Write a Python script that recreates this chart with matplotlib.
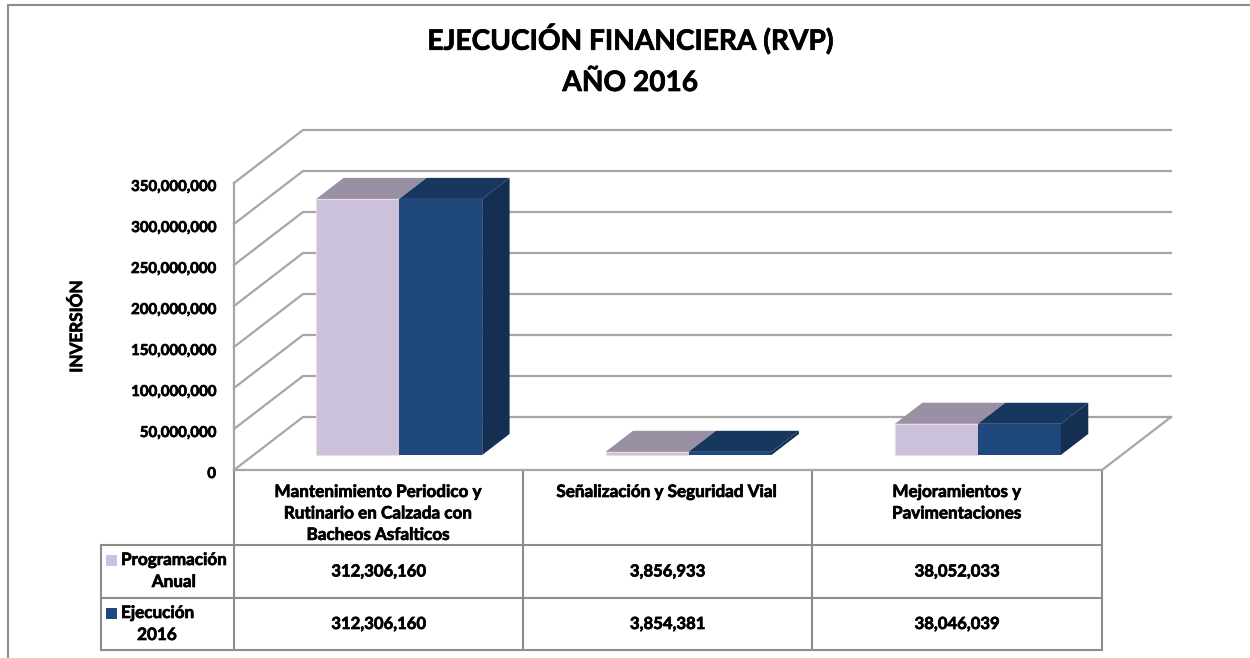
import numpy as np
import matplotlib
matplotlib.use('Agg')
import matplotlib.pyplot as plt
import matplotlib.patheffects as pe
from matplotlib.patches import Polygon, Rectangle
from matplotlib.text import Text
from matplotlib.transforms import ScaledTranslation

plt.rcParams['font.family'] = ['Lato', 'DejaVu Sans']
plt.rcParams['font.weight'] = 'bold'

categories = ['Mantenimiento Periodico y\nRutinario en Calzada con\nBacheos Asfalticos',
              'Señalización y Seguridad Vial',
              'Mejoramientos y\nPavimentaciones']
series_names = ['Programación\nAnual', 'Ejecución\n2016']
programacion = [312306160, 3856933, 38052033]
ejecucion = [312306160, 3854381, 38046039]
y_ticks = [0, 50000000, 100000000, 150000000, 200000000, 250000000, 300000000, 350000000]

W, H = 1250, 658
LINE = '#a6a6a6'
TABLE = '#8c8c8c'
front = ['#ccc1da', '#1f497d']
top = ['#9a90a4', '#17375e']
side = '#152f52'
edges = ['#f2dcdb', 'none']


def px_axes(fig, x0, y0, x1, y1):
    return fig.add_axes([x0 / W, 1 - y1 / H, (x1 - x0) / W, (y1 - y0) / H])


fig = plt.figure(figsize=(12.5, 6.58), dpi=100)

# overlay in pixels for frame and table
bg = fig.add_axes([0, 0, 1, 1], zorder=0)
bg.set_xlim(0, W)
bg.set_ylim(H, 0)
bg.axis('off')
bg.plot([8, 8, W], [H, 5, 5], color='#8c8c8c', lw=1.5)

bg.text(630, 39, 'EJECUCIÓN FINANCIERA (RVP)', ha='center', va='center', fontsize=20.2)
bg.text(630, 83, 'AÑO 2016', ha='center', va='center', fontsize=20.2)

# front plane of the chart, data units are categories and soles
ax = px_axes(fig, 234, 183, 1102, 470)
ax.set_zorder(1)
ax.patch.set_visible(False)
ax.set_xlim(0, 3)
ax.set_ylim(0, 350000000)
for s in ax.spines.values():
    s.set_visible(False)
ax.set_xticks([])
ax.set_yticks(y_ticks)
ax.set_yticklabels([f'{v:,}' for v in y_ticks], fontsize=10.8)
ax.tick_params(axis='y', length=0, pad=13)
for lbl in ax.get_yticklabels():
    lbl.set_transform(lbl.get_transform() + ScaledTranslation(0, -0.025, fig.dpi_scale_trans))
ax.set_ylabel('INVERSIÓN', fontsize=12.3, fontweight='bold', labelpad=33)

# depth of the box, full depth as data offsets
depth_x = 69 / (868 / 3)
depth_y = 53 / 287 * 350000000

for v in y_ticks:
    ax.plot([0, depth_x, 3 + depth_x], [v, v + depth_y, v + depth_y], color=LINE, lw=1.6, clip_on=False, zorder=1)
ax.plot([0, 0], [0, 350000000], color=LINE, lw=1.6, clip_on=False, zorder=1)
ax.plot([0, 3, 3 + depth_x], [0, 0, depth_y], color=LINE, lw=1.6, clip_on=False, zorder=1)

# bars sit inside the box between these depths
d0, d1 = 0.283, 0.68
bar_w = 83 / (868 / 3)
for i in range(3):
    for j, vals in enumerate([programacion, ejecucion]):
        v = vals[i]
        left = i + 0.5 - bar_w + 0.0035 + j * bar_w + d0 * depth_x
        right = left + bar_w
        base = d0 * depth_y
        ddx = (d1 - d0) * depth_x
        ddy = (d1 - d0) * depth_y
        ax.bar(left, v, bar_w, bottom=base, align='edge', color=front[j], edgecolor=edges[j], lw=0.8, clip_on=False, zorder=3)
        ax.add_patch(Polygon([(left, base + v), (right, base + v), (right + ddx, base + v + ddy), (left + ddx, base + v + ddy)],
                             closed=True, facecolor=top[j], edgecolor='none', clip_on=False, zorder=3))
        if j == 1:
            ax.add_patch(Polygon([(right, base), (right + ddx, base + ddy), (right + ddx, base + v + ddy), (right, base + v)],
                                 closed=True, facecolor=side, edgecolor='none', clip_on=False, zorder=3))

# data table under the chart
col_x = [234, 523, 812, 1102]
row_y = [470, 545, 598, 650]
for y in row_y[1:]:
    bg.plot([101, 1102], [y, y], color=TABLE, lw=1.5)
bg.plot([101, 101], [row_y[1], row_y[3]], color=TABLE, lw=1.5)
for x in col_x:
    bg.plot([x, x], [row_y[0], row_y[3]], color=TABLE, lw=1.5)

for i, name in enumerate(categories):
    bg.text((col_x[i] + col_x[i + 1]) / 2, 484, name, ha='center', va='top', fontsize=12.3, linespacing=1.42)

second_x = [174, 157]
for r, vals in enumerate([programacion, ejecucion]):
    cy = (row_y[r + 1] + row_y[r + 2]) / 2
    for i, v in enumerate(vals):
        bg.text((col_x[i] + col_x[i + 1]) / 2, cy, f'{v:,}', ha='center', va='center', fontsize=12)
    bg.add_patch(Rectangle((106, row_y[r + 1] + 10), 11, 10.5, facecolor=front[r], edgecolor='none'))
    first, second = series_names[r].split('\n')
    bg.text(121, row_y[r + 1] + 15, first, ha='left', va='center', fontsize=12.3)
    bg.text(second_x[r], row_y[r + 1] + 37, second, ha='center', va='center', fontsize=12.3)

# the original text is heavier than Lato bold
for t in fig.findobj(Text):
    t.set_path_effects([pe.withStroke(linewidth=0.5, foreground='black')])

fig.savefig('out.png', dpi=100)
